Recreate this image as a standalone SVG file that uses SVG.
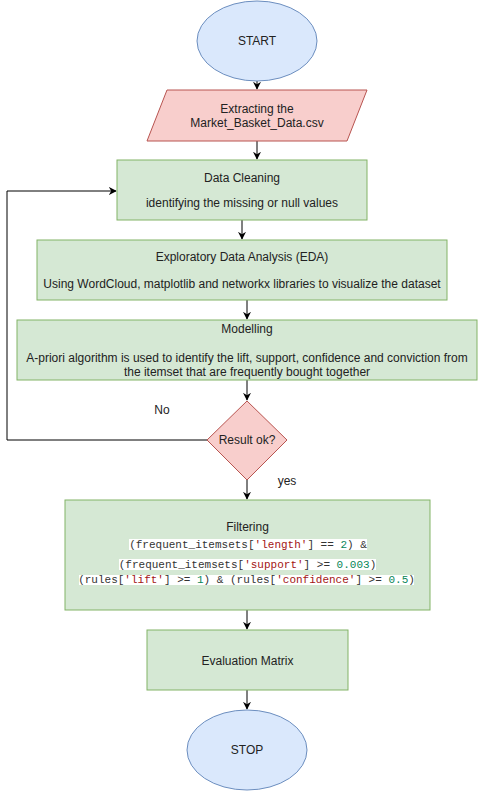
<svg xmlns="http://www.w3.org/2000/svg" width="478" height="791" viewBox="0 0 478 791">
<style>
text{font-family:"Liberation Sans",Arial,sans-serif;font-size:12px;fill:#222;text-anchor:middle;dominant-baseline:central}
.blue{fill:#dae8fc;stroke:#6c8ebf}
.red{fill:#f8cecc;stroke:#b85450}
.green{fill:#d5e8d4;stroke:#82b366}
.edge{fill:none;stroke:#000;stroke-width:1;marker-end:url(#arr)}
.code{font-family:"Liberation Mono","Courier New",monospace;font-size:11px;fill:#333}
.s{fill:#a31515}
.n{fill:#098658}
.hl{fill:#fff}
</style>
<defs>
<marker id="arr" viewBox="0 0 10 10" refX="9" refY="5" markerWidth="8" markerHeight="8" markerUnits="userSpaceOnUse" orient="auto">
<path d="M0,0 L10,5 L0,10 L3,5 Z" fill="#000"/>
</marker>
</defs>
<rect width="478" height="791" fill="#fff"/>
<g id="connectors">
<path class="edge" d="M257,81 V89"/>
<path class="edge" d="M257,141 V159"/>
<path class="edge" d="M242,220 V239"/>
<path class="edge" d="M247,300 V319"/>
<path class="edge" d="M247,380 V400"/>
<path class="edge" d="M207,440 H7 V191 H116"/>
<path class="edge" d="M247,480 V499"/>
<path class="edge" d="M247,610 V629"/>
<path class="edge" d="M247,690 V709"/>
<text x="162" y="410">No</text>
<text x="287" y="481">yes</text>
</g>
<g id="start">
<ellipse class="blue" cx="257" cy="41" rx="60" ry="40"/>
<text x="257" y="41">START</text>
</g>
<g id="extract">
<polygon class="red" points="167,90 367,90 347,141 147,141"/>
<text x="257" y="109">Extracting the</text>
<text x="257" y="123">Market_Basket_Data.csv</text>
</g>
<g id="cleaning">
<rect class="green" x="117" y="160" width="250" height="60"/>
<text x="242" y="178">Data Cleaning</text>
<text x="242" y="203">identifying the missing or null values</text>
</g>
<g id="eda">
<rect class="green" x="37" y="240" width="410" height="60"/>
<text x="242" y="257">Exploratory Data Analysis (EDA)</text>
<text x="242" y="284">Using WordCloud, matplotlib and networkx libraries to visualize the dataset</text>
</g>
<g id="modelling">
<rect class="green" x="17" y="320" width="460" height="60"/>
<text x="247" y="329">Modelling</text>
<text x="247" y="358">A-priori algorithm is used to identify the lift, support, confidence and conviction from</text>
<text x="247" y="372">the itemset that are frequently bought together</text>
</g>
<g id="decision">
<polygon class="red" points="247,401 287,440 247,480 207,440"/>
<text x="247" y="440">Result ok?</text>
</g>
<g id="filtering">
<rect class="green" x="65" y="500" width="365" height="110"/>
<text x="247.5" y="527">Filtering</text>
<rect class="hl" x="129" y="539" width="238" height="11"/>
<rect class="hl" x="119" y="559" width="257" height="11"/>
<rect class="hl" x="79" y="575" width="335" height="10"/>
<text class="code" x="248" y="545">(frequent_itemsets[<tspan class="s">'length'</tspan>] == <tspan class="n">2</tspan>) &amp;</text>
<text class="code" x="247.5" y="565">(frequent_itemsets[<tspan class="s">'support'</tspan>] &gt;= <tspan class="n">0.003</tspan>)</text>
<text class="code" x="246.5" y="580">(rules[<tspan class="s">'lift'</tspan>] &gt;= <tspan class="n">1</tspan>) &amp; (rules[<tspan class="s">'confidence'</tspan>] &gt;= <tspan class="n">0.5</tspan>)</text>
</g>
<g id="evaluation">
<rect class="green" x="147" y="630" width="201" height="60"/>
<text x="247.5" y="661">Evaluation Matrix</text>
</g>
<g id="stop">
<ellipse class="blue" cx="247" cy="750" rx="60" ry="40"/>
<text x="247" y="750">STOP</text>
</g>
</svg>
